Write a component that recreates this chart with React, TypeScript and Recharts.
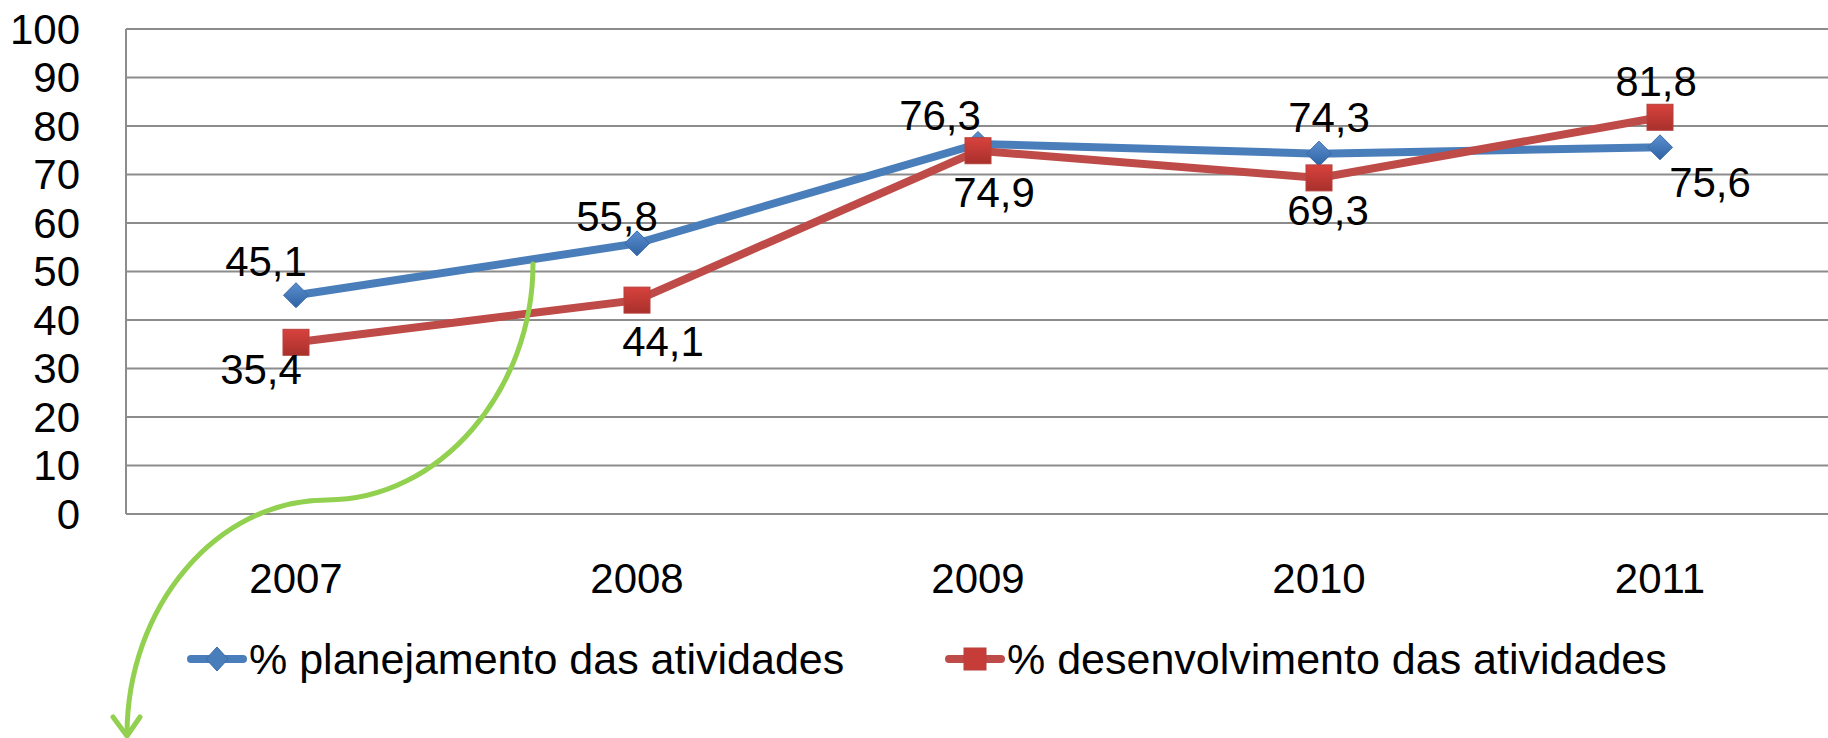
import { LineChart, Line, XAxis, YAxis, CartesianGrid, Legend } from 'recharts';

const years = ['2007', '2008', '2009', '2010', '2011'];
const planejamento = [45.1, 55.8, 76.3, 74.3, 75.6];
const desenvolvimento = [35.4, 44.1, 74.9, 69.3, 81.8];
const yTicks = [0, 10, 20, 30, 40, 50, 60, 70, 80, 90, 100];
const seriesNames = ['% planejamento das atividades', '% desenvolvimento das atividades'];

const data = years.map((year, i) => ({
  year,
  planejamento: planejamento[i],
  desenvolvimento: desenvolvimento[i],
}));

// where each value label sits relative to its marker (label centre, px)
const planLabelOffset = [[-30, -34], [-20, -27], [-38, -28], [10, -36], [50, 35]];
const desLabelOffset = [[-35, 27], [26, 41], [16, 42], [9, 33], [-4, -36]];

// hand-drawn green S-shaped arrow annotation (pixel path, not data)
const ARROW_PATH = 'M533,264 C533,390 440,500 327,500 C217,500 127,606 127,735';

const FONT = '"Liberation Sans", Arial, sans-serif';
const BLUE = '#4A7EBB';
const RED = '#BE4B48';
const GRID = '#8C8C8C';

const fmt = (v: number) => v.toFixed(1).replace('.', ',');

const Diamond = ({ cx, cy, r = 12.5 }: any) => (
  <path
    d={`M${cx},${cy - r} L${cx + r},${cy} L${cx},${cy + r} L${cx - r},${cy} Z`}
    fill="url(#blueGrad)"
    stroke="#3A6BA8"
    strokeWidth={1}
  />
);

const Square = ({ cx, cy, s = 13 }: any) => (
  <rect x={cx - s} y={cy - s} width={s * 2} height={s * 2} fill="url(#redGrad)" stroke="#B5403D" strokeWidth={1} />
);

const makeLabel = (offsets: number[][]) => (props: any) => {
  const { x, y, value, index } = props;
  const [dx, dy] = offsets[index] || [0, -30];
  return (
    <text
      key={`lbl-${index}`}
      x={x + dx}
      y={y + dy}
      textAnchor="middle"
      dominantBaseline="central"
      fontFamily={FONT}
      fontSize={42}
      fill="#000"
    >
      {fmt(value)}
    </text>
  );
};

const renderLegend = () => (
  <div style={{ position: 'relative', width: 1828, height: 100 }}>
    {[0, 1].map((i) => (
      <div
        key={seriesNames[i]}
        style={{
          position: 'absolute',
          left: i === 0 ? 187 : 945,
          top: 0,
          height: 42,
          display: 'flex',
          alignItems: 'center',
          whiteSpace: 'nowrap',
        }}
      >
        <svg width={60} height={30}>
          <line x1={4} y1={15} x2={56} y2={15} stroke={i === 0 ? BLUE : RED} strokeWidth={8} strokeLinecap="round" />
          {i === 0 ? (
            <path d="M30,3 L41,15 L30,27 L19,15 Z" fill={BLUE} stroke="#3A6BA8" />
          ) : (
            <rect x={19} y={4} width={22} height={22} fill="#C63C38" stroke="#B5403D" />
          )}
        </svg>
        <span style={{ fontFamily: FONT, fontSize: 43, color: '#000', lineHeight: '42px', marginLeft: 2 }}>
          {seriesNames[i]}
        </span>
      </div>
    ))}
  </div>
);

export default function App() {
  return (
    <div style={{ position: 'absolute', left: 0, top: 0, width: 1828, height: 738, background: '#fff' }}>
      <LineChart width={1828} height={738} data={data} margin={{ top: 29, right: -3, left: 0, bottom: 0 }}>
        <defs>
          <linearGradient id="blueGrad" x1="0" y1="0" x2="0" y2="1">
            <stop offset="0%" stopColor="#5B8FD0" />
            <stop offset="100%" stopColor="#2F62A3" />
          </linearGradient>
          <linearGradient id="redGrad" x1="0" y1="0" x2="0" y2="1">
            <stop offset="0%" stopColor="#D8423D" />
            <stop offset="100%" stopColor="#A8302C" />
          </linearGradient>
        </defs>
        <CartesianGrid vertical={false} stroke={GRID} strokeWidth={2} />
        <XAxis
          dataKey="year"
          height={124}
          padding={{ left: 170, right: 171 }}
          tickLine={false}
          tickSize={0}
          tickMargin={49}
          axisLine={{ stroke: GRID, strokeWidth: 2 }}
          tick={{ fontFamily: FONT, fontSize: 42, fill: '#000' }}
        />
        <YAxis
          width={126}
          domain={[0, 100]}
          ticks={yTicks}
          interval={0}
          tickLine={false}
          tickSize={0}
          tickMargin={46}
          axisLine={{ stroke: GRID, strokeWidth: 2 }}
          tick={{ fontFamily: FONT, fontSize: 42, fill: '#000' }}
        />
        <Legend verticalAlign="bottom" content={renderLegend} wrapperStyle={{ left: 0, width: 1828 }} />
        <Line
          type="linear"
          dataKey="planejamento"
          name={seriesNames[0]}
          stroke={BLUE}
          strokeWidth={8}
          dot={(p: any) => <Diamond key={`d-${p.index}`} cx={p.cx} cy={p.cy} />}
          label={makeLabel(planLabelOffset)}
          isAnimationActive={false}
        />
        <Line
          type="linear"
          dataKey="desenvolvimento"
          name={seriesNames[1]}
          stroke={RED}
          strokeWidth={8}
          dot={(p: any) => <Square key={`s-${p.index}`} cx={p.cx} cy={p.cy} />}
          label={makeLabel(desLabelOffset)}
          isAnimationActive={false}
        />
      </LineChart>
      <svg width={1828} height={738} style={{ position: 'absolute', left: 0, top: 0, pointerEvents: 'none' }}>
        <path d={ARROW_PATH} fill="none" stroke="#92D050" strokeWidth={5} strokeLinecap="round" />
        <path d="M113,717 L127,736 L140,717" fill="none" stroke="#92D050" strokeWidth={5} strokeLinecap="round" strokeLinejoin="round" />
      </svg>
    </div>
  );
}
